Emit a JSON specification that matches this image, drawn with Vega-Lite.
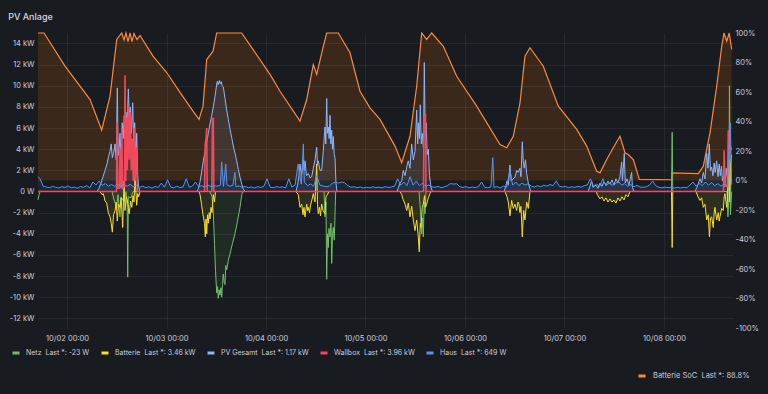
{
"$schema":"https://vega.github.io/schema/vega-lite/v6.json",
"width":695,"height":295,
"autosize":{"type":"none"},
"padding":{"left":38,"top":33,"right":35,"bottom":66},
"background":"#181b1f",
"title":{"text":"PV Anlage","anchor":"start","dx":-1,"dy":15,"offset":15,"baseline":"alphabetic","fontSize":9,"fontWeight":500,"color":"#d8d9e3","font":"Inter"},
"config":{"view":{"stroke":null},"font":"Inter"},
"datasets":{
"soc":[
{"h":-7.0,"s":"Batterie SoC","v":100},{"h":-5.55,"s":"Batterie SoC","v":100},{"h":-0.48,"s":"Batterie SoC","v":77.5},{"h":5.55,"s":"Batterie SoC","v":54.9},{"h":8.37,"s":"Batterie SoC","v":34.1},{"h":10.37,"s":"Batterie SoC","v":57.2},{"h":11.99,"s":"Batterie SoC","v":95.6},{"h":13.19,"s":"Batterie SoC","v":100},{"h":13.75,"s":"Batterie SoC","v":95.3},{"h":14.23,"s":"Batterie SoC","v":100},{"h":14.71,"s":"Batterie SoC","v":94.2},{"h":15.2,"s":"Batterie SoC","v":100},{"h":15.68,"s":"Batterie SoC","v":94.2},{"h":16.16,"s":"Batterie SoC","v":99.7},{"h":16.88,"s":"Batterie SoC","v":95.6},{"h":17.61,"s":"Batterie SoC","v":98.3},{"h":20.74,"s":"Batterie SoC","v":84.3},{"h":24.05,"s":"Batterie SoC","v":73.2},{"h":27.26,"s":"Batterie SoC","v":59.7},{"h":30.39,"s":"Batterie SoC","v":47},{"h":31.84,"s":"Batterie SoC","v":41.4},{"h":32.8,"s":"Batterie SoC","v":50.4},{"h":33.7,"s":"Batterie SoC","v":82},{"h":35.22,"s":"Batterie SoC","v":87.7},{"h":36.1,"s":"Batterie SoC","v":100},{"h":42.14,"s":"Batterie SoC","v":100},{"h":48.97,"s":"Batterie SoC","v":71.9},{"h":51.38,"s":"Batterie SoC","v":60.5},{"h":55.4,"s":"Batterie SoC","v":43.6},{"h":56.2,"s":"Batterie SoC","v":40.2},{"h":57.82,"s":"Batterie SoC","v":54.9},{"h":59.41,"s":"Batterie SoC","v":78.6},{"h":60.23,"s":"Batterie SoC","v":71.9},{"h":61.82,"s":"Batterie SoC","v":91},{"h":62.64,"s":"Batterie SoC","v":100},{"h":65.44,"s":"Batterie SoC","v":100},{"h":68.26,"s":"Batterie SoC","v":86.6},{"h":70.67,"s":"Batterie SoC","v":60.5},{"h":73.08,"s":"Batterie SoC","v":49.3},{"h":75.5,"s":"Batterie SoC","v":41.4},{"h":79.12,"s":"Batterie SoC","v":23.3},{"h":80.73,"s":"Batterie SoC","v":12},{"h":82.73,"s":"Batterie SoC","v":30},{"h":84.35,"s":"Batterie SoC","v":63.9},{"h":85.56,"s":"Batterie SoC","v":100},{"h":86.76,"s":"Batterie SoC","v":95.6},{"h":87.97,"s":"Batterie SoC","v":100},{"h":90.77,"s":"Batterie SoC","v":91},{"h":94.0,"s":"Batterie SoC","v":70.7},{"h":98.82,"s":"Batterie SoC","v":50.4},{"h":104.45,"s":"Batterie SoC","v":24.4},{"h":106.06,"s":"Batterie SoC","v":22.2},{"h":107.65,"s":"Batterie SoC","v":30},{"h":109.27,"s":"Batterie SoC","v":52.7},{"h":110.47,"s":"Batterie SoC","v":84.3},{"h":111.68,"s":"Batterie SoC","v":90},{"h":114.89,"s":"Batterie SoC","v":77.5},{"h":118.51,"s":"Batterie SoC","v":50.4},{"h":122.95,"s":"Batterie SoC","v":34.6},{"h":125.36,"s":"Batterie SoC","v":23.3},{"h":127.77,"s":"Batterie SoC","v":6.3},{"h":128.57,"s":"Batterie SoC","v":5.2},{"h":130.18,"s":"Batterie SoC","v":14.2},{"h":131.77,"s":"Batterie SoC","v":22.2},{"h":133.39,"s":"Batterie SoC","v":30},{"h":134.6,"s":"Batterie SoC","v":18.8},{"h":135.39,"s":"Batterie SoC","v":17.6},{"h":136.6,"s":"Batterie SoC","v":14.2},{"h":138.05,"s":"Batterie SoC","v":0.7},{"h":145.86,"s":"Batterie SoC","v":0.5},{"h":145.93,"s":"Batterie SoC","v":5.2},{"h":152.28,"s":"Batterie SoC","v":4.7},{"h":153.49,"s":"Batterie SoC","v":9.7},{"h":155.1,"s":"Batterie SoC","v":32.3},{"h":156.72,"s":"Batterie SoC","v":63.9},{"h":157.93,"s":"Batterie SoC","v":91},{"h":158.48,"s":"Batterie SoC","v":100},{"h":159.13,"s":"Batterie SoC","v":94.4},{"h":159.75,"s":"Batterie SoC","v":100},{"h":160.33,"s":"Batterie SoC","v":88.8}
],
"power":[
{"h":-7.0,"s":"Netz","v":-0.8},{"h":-6.75,"s":"Netz","v":-0.3},{"h":-6.5,"s":"Netz","v":0},{"h":10.85,"s":"Netz","v":0},{"h":11.34,"s":"Netz","v":-0.8},{"h":11.99,"s":"Netz","v":-1.5},{"h":12.30,"s":"Netz","v":-0.3},{"h":12.78,"s":"Netz","v":-2.4},{"h":13.02,"s":"Netz","v":-0.5},{"h":13.75,"s":"Netz","v":-1.0},{"h":14.23,"s":"Netz","v":0},{"h":14.52,"s":"Netz","v":-1.5},{"h":14.64,"s":"Netz","v":-8.1},{"h":14.79,"s":"Netz","v":-0.5},{"h":15.44,"s":"Netz","v":-0.6},{"h":15.92,"s":"Netz","v":0},
{"h":34.49,"s":"Netz","v":0},{"h":34.97,"s":"Netz","v":-0.5},{"h":35.29,"s":"Netz","v":-2.0},{"h":35.58,"s":"Netz","v":-5.0},{"h":35.82,"s":"Netz","v":-7.5},{"h":36.11,"s":"Netz","v":-9.6},{"h":36.30,"s":"Netz","v":-9.0},{"h":36.49,"s":"Netz","v":-10.1},{"h":36.71,"s":"Netz","v":-9.3},{"h":36.90,"s":"Netz","v":-9.8},{"h":37.14,"s":"Netz","v":-9.1},{"h":37.31,"s":"Netz","v":-10.0},{"h":37.51,"s":"Netz","v":-8.8},{"h":37.70,"s":"Netz","v":-7.8},{"h":37.92,"s":"Netz","v":-8.6},{"h":38.11,"s":"Netz","v":-8.8},{"h":38.30,"s":"Netz","v":-7.0},{"h":38.52,"s":"Netz","v":-7.4},{"h":38.91,"s":"Netz","v":-6.5},{"h":39.32,"s":"Netz","v":-5.9},{"h":39.92,"s":"Netz","v":-4.9},{"h":40.52,"s":"Netz","v":-4.0},{"h":41.12,"s":"Netz","v":-2.8},{"h":41.73,"s":"Netz","v":-1.5},{"h":42.14,"s":"Netz","v":-0.3},{"h":42.45,"s":"Netz","v":0},
{"h":61.99,"s":"Netz","v":0},{"h":62.23,"s":"Netz","v":-2.4},{"h":62.47,"s":"Netz","v":-1.0},{"h":62.64,"s":"Netz","v":-8.3},{"h":62.83,"s":"Netz","v":-4.0},{"h":63.03,"s":"Netz","v":-5.3},{"h":63.19,"s":"Netz","v":-3.5},{"h":63.44,"s":"Netz","v":-4.3},{"h":63.68,"s":"Netz","v":-3.0},{"h":63.85,"s":"Netz","v":-6.8},{"h":64.04,"s":"Netz","v":-4.0},{"h":64.23,"s":"Netz","v":-3.4},{"h":64.47,"s":"Netz","v":-4.6},{"h":64.69,"s":"Netz","v":-1.5},{"h":64.81,"s":"Netz","v":0},
{"h":84.90,"s":"Netz","v":0},{"h":85.14,"s":"Netz","v":-1.2},{"h":85.56,"s":"Netz","v":-4.0},{"h":85.75,"s":"Netz","v":-2.5},{"h":85.94,"s":"Netz","v":-4.3},{"h":86.16,"s":"Netz","v":-1.0},{"h":86.35,"s":"Netz","v":-2.1},{"h":86.59,"s":"Netz","v":0},
{"h":145.81,"s":"Netz","v":0},{"h":145.98,"s":"Netz","v":5.6},{"h":146.12,"s":"Netz","v":0},
{"h":159.19,"s":"Netz","v":0},{"h":159.43,"s":"Netz","v":-2.4},{"h":159.67,"s":"Netz","v":-0.5},{"h":159.79,"s":"Netz","v":10.0},{"h":160.03,"s":"Netz","v":-2.2},{"h":160.33,"s":"Netz","v":-0.023},

{"h":-7.0,"s":"Batterie","v":0},{"h":7.96,"s":"Batterie","v":0},{"h":8.44,"s":"Batterie","v":-0.3},{"h":8.76,"s":"Batterie","v":-0.2},{"h":9.17,"s":"Batterie","v":-0.9},{"h":9.58,"s":"Batterie","v":-1.1},{"h":9.96,"s":"Batterie","v":-2.0},{"h":10.37,"s":"Batterie","v":-2.4},{"h":10.66,"s":"Batterie","v":-3.0},{"h":10.93,"s":"Batterie","v":-3.85},{"h":11.22,"s":"Batterie","v":-2.2},{"h":11.58,"s":"Batterie","v":-1.8},{"h":11.87,"s":"Batterie","v":-1.0},{"h":12.13,"s":"Batterie","v":-2.8},{"h":12.42,"s":"Batterie","v":-1.2},{"h":12.78,"s":"Batterie","v":-1.5},{"h":13.07,"s":"Batterie","v":-0.6},{"h":13.43,"s":"Batterie","v":-3.4},{"h":13.75,"s":"Batterie","v":1.0},{"h":13.99,"s":"Batterie","v":-1.8},{"h":14.28,"s":"Batterie","v":-0.5},{"h":14.54,"s":"Batterie","v":-0.8},{"h":14.79,"s":"Batterie","v":-1.6},{"h":15.03,"s":"Batterie","v":-2.1},{"h":15.32,"s":"Batterie","v":-0.9},{"h":15.61,"s":"Batterie","v":-1.5},{"h":15.92,"s":"Batterie","v":-0.4},{"h":16.16,"s":"Batterie","v":-1.0},{"h":16.40,"s":"Batterie","v":1.35},{"h":16.81,"s":"Batterie","v":-1.3},{"h":17.05,"s":"Batterie","v":-0.2},{"h":17.29,"s":"Batterie","v":-0.5},{"h":17.61,"s":"Batterie","v":0},
{"h":31.84,"s":"Batterie","v":0},{"h":32.08,"s":"Batterie","v":-0.3},{"h":32.44,"s":"Batterie","v":-1.2},{"h":32.80,"s":"Batterie","v":-2.2},{"h":33.17,"s":"Batterie","v":-3.0},{"h":33.36,"s":"Batterie","v":-4.3},{"h":33.53,"s":"Batterie","v":-2.6},{"h":33.70,"s":"Batterie","v":-4.0},{"h":33.89,"s":"Batterie","v":-2.2},{"h":34.08,"s":"Batterie","v":-3.0},{"h":34.30,"s":"Batterie","v":-2.0},{"h":34.49,"s":"Batterie","v":-2.6},{"h":34.73,"s":"Batterie","v":-1.5},{"h":34.97,"s":"Batterie","v":-2.0},{"h":35.29,"s":"Batterie","v":-0.3},{"h":35.58,"s":"Batterie","v":-1.0},{"h":35.82,"s":"Batterie","v":0},
{"h":55.23,"s":"Batterie","v":0},{"h":55.79,"s":"Batterie","v":-0.3},{"h":56.20,"s":"Batterie","v":-1.5},{"h":56.61,"s":"Batterie","v":-1.2},{"h":56.92,"s":"Batterie","v":-2.2},{"h":57.16,"s":"Batterie","v":-1.5},{"h":57.41,"s":"Batterie","v":-2.4},{"h":57.82,"s":"Batterie","v":-1.2},{"h":58.01,"s":"Batterie","v":-1.8},{"h":58.20,"s":"Batterie","v":-1.5},{"h":58.49,"s":"Batterie","v":-2.0},{"h":58.73,"s":"Batterie","v":-1.3},{"h":59.02,"s":"Batterie","v":-0.9},{"h":59.41,"s":"Batterie","v":-0.2},{"h":59.82,"s":"Batterie","v":-1.0},{"h":60.23,"s":"Batterie","v":2.6},{"h":60.42,"s":"Batterie","v":-1.2},{"h":60.61,"s":"Batterie","v":-2.1},{"h":60.90,"s":"Batterie","v":-1.5},{"h":61.14,"s":"Batterie","v":-2.3},{"h":61.43,"s":"Batterie","v":-1.2},{"h":61.75,"s":"Batterie","v":-1.8},{"h":62.23,"s":"Batterie","v":-2.1},{"h":62.47,"s":"Batterie","v":-0.5},{"h":62.83,"s":"Batterie","v":-0.3},{"h":63.19,"s":"Batterie","v":0},
{"h":80.32,"s":"Batterie","v":0},{"h":80.73,"s":"Batterie","v":-0.3},{"h":81.12,"s":"Batterie","v":-0.8},{"h":81.53,"s":"Batterie","v":-1.2},{"h":81.94,"s":"Batterie","v":-1.8},{"h":82.32,"s":"Batterie","v":-1.1},{"h":82.73,"s":"Batterie","v":-2.4},{"h":83.14,"s":"Batterie","v":-1.4},{"h":83.53,"s":"Batterie","v":-2.7},{"h":83.94,"s":"Batterie","v":-3.7},{"h":84.35,"s":"Batterie","v":-2.7},{"h":84.73,"s":"Batterie","v":-4.3},{"h":84.97,"s":"Batterie","v":-5.7},{"h":85.22,"s":"Batterie","v":-3.0},{"h":85.38,"s":"Batterie","v":-3.4},{"h":85.70,"s":"Batterie","v":-1.5},{"h":85.94,"s":"Batterie","v":-1.2},{"h":86.23,"s":"Batterie","v":-0.4},{"h":86.47,"s":"Batterie","v":-1.5},{"h":86.76,"s":"Batterie","v":-1.2},{"h":87.15,"s":"Batterie","v":-0.6},{"h":87.56,"s":"Batterie","v":-0.2},{"h":87.80,"s":"Batterie","v":0},
{"h":105.65,"s":"Batterie","v":0},{"h":106.13,"s":"Batterie","v":-0.5},{"h":106.44,"s":"Batterie","v":-1.0},{"h":106.85,"s":"Batterie","v":-2.3},{"h":107.26,"s":"Batterie","v":-0.85},{"h":107.65,"s":"Batterie","v":-1.6},{"h":108.06,"s":"Batterie","v":-1.2},{"h":108.47,"s":"Batterie","v":-1.8},{"h":108.78,"s":"Batterie","v":-1.0},{"h":109.02,"s":"Batterie","v":-1.2},{"h":109.26,"s":"Batterie","v":-2.0},{"h":109.50,"s":"Batterie","v":-1.4},{"h":109.82,"s":"Batterie","v":-4.3},{"h":110.15,"s":"Batterie","v":-1.8},{"h":110.47,"s":"Batterie","v":-2.7},{"h":110.88,"s":"Batterie","v":-1.0},{"h":111.27,"s":"Batterie","v":-1.6},{"h":111.68,"s":"Batterie","v":0},
{"h":127.59,"s":"Batterie","v":0},{"h":128.08,"s":"Batterie","v":-0.4},{"h":128.56,"s":"Batterie","v":-0.7},{"h":129.04,"s":"Batterie","v":-0.5},{"h":129.52,"s":"Batterie","v":-0.9},{"h":130.01,"s":"Batterie","v":-0.6},{"h":130.49,"s":"Batterie","v":-1.0},{"h":130.97,"s":"Batterie","v":-0.7},{"h":131.45,"s":"Batterie","v":-1.0},{"h":131.94,"s":"Batterie","v":-0.8},{"h":132.42,"s":"Batterie","v":-1.1},{"h":132.90,"s":"Batterie","v":-0.6},{"h":133.38,"s":"Batterie","v":-0.9},{"h":133.87,"s":"Batterie","v":-0.5},{"h":134.35,"s":"Batterie","v":-0.8},{"h":134.83,"s":"Batterie","v":-0.3},{"h":135.31,"s":"Batterie","v":-0.5},{"h":135.80,"s":"Batterie","v":0},
{"h":145.81,"s":"Batterie","v":0},{"h":145.98,"s":"Batterie","v":-5.3},{"h":146.12,"s":"Batterie","v":0},
{"h":151.71,"s":"Batterie","v":0},{"h":152.20,"s":"Batterie","v":-0.5},{"h":152.68,"s":"Batterie","v":-0.85},{"h":153.09,"s":"Batterie","v":-0.6},{"h":153.48,"s":"Batterie","v":-1.5},{"h":153.89,"s":"Batterie","v":-1.2},{"h":154.30,"s":"Batterie","v":-2.7},{"h":154.68,"s":"Batterie","v":-2.2},{"h":154.97,"s":"Batterie","v":-4.3},{"h":155.21,"s":"Batterie","v":-2.5},{"h":155.50,"s":"Batterie","v":-2.4},{"h":155.89,"s":"Batterie","v":-3.4},{"h":156.11,"s":"Batterie","v":-2.0},{"h":156.30,"s":"Batterie","v":-1.5},{"h":156.71,"s":"Batterie","v":-2.7},{"h":157.10,"s":"Batterie","v":-2.0},{"h":157.31,"s":"Batterie","v":-2.8},{"h":157.50,"s":"Batterie","v":-2.4},{"h":157.91,"s":"Batterie","v":-1.6},{"h":158.30,"s":"Batterie","v":-1.8},{"h":158.52,"s":"Batterie","v":-0.5},{"h":158.71,"s":"Batterie","v":-0.2},{"h":159.12,"s":"Batterie","v":-1.5},{"h":159.31,"s":"Batterie","v":-0.8},{"h":159.51,"s":"Batterie","v":3.2},{"h":159.79,"s":"Batterie","v":-1.0},{"h":160.03,"s":"Batterie","v":2.5},{"h":160.33,"s":"Batterie","v":3.46},

{"h":-7.0,"s":"PV Gesamt","v":0},{"h":7.24,"s":"PV Gesamt","v":0},{"h":7.72,"s":"PV Gesamt","v":0.3},{"h":8.20,"s":"PV Gesamt","v":0.8},{"h":8.68,"s":"PV Gesamt","v":1.4},{"h":9.17,"s":"PV Gesamt","v":2.0},{"h":9.65,"s":"PV Gesamt","v":2.6},{"h":10.01,"s":"PV Gesamt","v":3.3},{"h":10.37,"s":"PV Gesamt","v":3.8},{"h":10.66,"s":"PV Gesamt","v":4.5},{"h":10.93,"s":"PV Gesamt","v":3.2},{"h":11.22,"s":"PV Gesamt","v":3.6},{"h":11.58,"s":"PV Gesamt","v":4.5},{"h":11.87,"s":"PV Gesamt","v":3.0},{"h":12.13,"s":"PV Gesamt","v":9.8},{"h":12.35,"s":"PV Gesamt","v":3.4},{"h":12.59,"s":"PV Gesamt","v":4.2},{"h":12.78,"s":"PV Gesamt","v":5.5},{"h":13.02,"s":"PV Gesamt","v":3.5},{"h":13.31,"s":"PV Gesamt","v":6.5},{"h":13.56,"s":"PV Gesamt","v":5.0},{"h":13.80,"s":"PV Gesamt","v":7.2},{"h":13.99,"s":"PV Gesamt","v":4.5},{"h":14.23,"s":"PV Gesamt","v":7.5},{"h":14.47,"s":"PV Gesamt","v":6.0},{"h":14.79,"s":"PV Gesamt","v":9.7},{"h":15.03,"s":"PV Gesamt","v":7.0},{"h":15.27,"s":"PV Gesamt","v":8.0},{"h":15.51,"s":"PV Gesamt","v":5.5},{"h":15.85,"s":"PV Gesamt","v":8.4},{"h":16.09,"s":"PV Gesamt","v":4.5},{"h":16.33,"s":"PV Gesamt","v":6.5},{"h":16.57,"s":"PV Gesamt","v":3.0},{"h":16.81,"s":"PV Gesamt","v":5.5},{"h":17.05,"s":"PV Gesamt","v":1.5},{"h":17.29,"s":"PV Gesamt","v":0.4},{"h":17.61,"s":"PV Gesamt","v":0},
{"h":31.36,"s":"PV Gesamt","v":0},{"h":31.72,"s":"PV Gesamt","v":0.3},{"h":32.08,"s":"PV Gesamt","v":0.9},{"h":32.49,"s":"PV Gesamt","v":1.9},{"h":32.88,"s":"PV Gesamt","v":2.9},{"h":33.29,"s":"PV Gesamt","v":3.8},{"h":33.70,"s":"PV Gesamt","v":4.7},{"h":34.08,"s":"PV Gesamt","v":5.5},{"h":34.49,"s":"PV Gesamt","v":6.4},{"h":34.90,"s":"PV Gesamt","v":7.2},{"h":35.29,"s":"PV Gesamt","v":8.0},{"h":35.70,"s":"PV Gesamt","v":9.0},{"h":35.99,"s":"PV Gesamt","v":9.8},{"h":36.23,"s":"PV Gesamt","v":10.4},{"h":36.49,"s":"PV Gesamt","v":10.1},{"h":36.73,"s":"PV Gesamt","v":10.5},{"h":36.98,"s":"PV Gesamt","v":10.2},{"h":37.19,"s":"PV Gesamt","v":10.4},{"h":37.43,"s":"PV Gesamt","v":10.0},{"h":37.70,"s":"PV Gesamt","v":9.9},{"h":38.11,"s":"PV Gesamt","v":8.8},{"h":38.52,"s":"PV Gesamt","v":7.7},{"h":38.91,"s":"PV Gesamt","v":6.8},{"h":39.32,"s":"PV Gesamt","v":5.9},{"h":39.72,"s":"PV Gesamt","v":5.1},{"h":40.11,"s":"PV Gesamt","v":4.3},{"h":40.52,"s":"PV Gesamt","v":3.6},{"h":40.93,"s":"PV Gesamt","v":2.9},{"h":41.32,"s":"PV Gesamt","v":2.1},{"h":41.73,"s":"PV Gesamt","v":1.35},{"h":42.14,"s":"PV Gesamt","v":0.7},{"h":42.52,"s":"PV Gesamt","v":0.25},{"h":42.93,"s":"PV Gesamt","v":0},
{"h":55.23,"s":"PV Gesamt","v":0},{"h":55.60,"s":"PV Gesamt","v":0.6},{"h":55.96,"s":"PV Gesamt","v":1.5},{"h":56.20,"s":"PV Gesamt","v":2.6},{"h":56.56,"s":"PV Gesamt","v":1.5},{"h":57.00,"s":"PV Gesamt","v":3.0},{"h":57.21,"s":"PV Gesamt","v":2.0},{"h":57.41,"s":"PV Gesamt","v":2.9},{"h":57.77,"s":"PV Gesamt","v":1.5},{"h":58.20,"s":"PV Gesamt","v":1.7},{"h":58.61,"s":"PV Gesamt","v":1.3},{"h":59.02,"s":"PV Gesamt","v":1.4},{"h":59.41,"s":"PV Gesamt","v":2.2},{"h":59.82,"s":"PV Gesamt","v":3.0},{"h":60.23,"s":"PV Gesamt","v":4.2},{"h":60.42,"s":"PV Gesamt","v":2.5},{"h":60.61,"s":"PV Gesamt","v":2.9},{"h":61.02,"s":"PV Gesamt","v":2.0},{"h":61.43,"s":"PV Gesamt","v":2.0},{"h":61.75,"s":"PV Gesamt","v":3.5},{"h":62.23,"s":"PV Gesamt","v":6.1},{"h":62.42,"s":"PV Gesamt","v":4.5},{"h":62.64,"s":"PV Gesamt","v":8.8},{"h":62.83,"s":"PV Gesamt","v":5.5},{"h":63.03,"s":"PV Gesamt","v":6.1},{"h":63.24,"s":"PV Gesamt","v":5.0},{"h":63.44,"s":"PV Gesamt","v":7.2},{"h":63.63,"s":"PV Gesamt","v":4.5},{"h":63.85,"s":"PV Gesamt","v":5.8},{"h":64.04,"s":"PV Gesamt","v":4.0},{"h":64.23,"s":"PV Gesamt","v":5.2},{"h":64.45,"s":"PV Gesamt","v":3.5},{"h":64.64,"s":"PV Gesamt","v":3.2},{"h":64.88,"s":"PV Gesamt","v":0.8},{"h":65.12,"s":"PV Gesamt","v":0},
{"h":79.60,"s":"PV Gesamt","v":0},{"h":79.96,"s":"PV Gesamt","v":0.4},{"h":80.32,"s":"PV Gesamt","v":0.8},{"h":80.73,"s":"PV Gesamt","v":1.0},{"h":81.12,"s":"PV Gesamt","v":2.0},{"h":81.53,"s":"PV Gesamt","v":1.5},{"h":81.94,"s":"PV Gesamt","v":2.3},{"h":82.32,"s":"PV Gesamt","v":2.9},{"h":82.73,"s":"PV Gesamt","v":2.2},{"h":83.14,"s":"PV Gesamt","v":4.5},{"h":83.53,"s":"PV Gesamt","v":3.0},{"h":83.94,"s":"PV Gesamt","v":3.8},{"h":84.35,"s":"PV Gesamt","v":7.7},{"h":84.59,"s":"PV Gesamt","v":4.5},{"h":84.78,"s":"PV Gesamt","v":6.5},{"h":85.02,"s":"PV Gesamt","v":5.0},{"h":85.22,"s":"PV Gesamt","v":8.2},{"h":85.46,"s":"PV Gesamt","v":4.5},{"h":85.70,"s":"PV Gesamt","v":5.5},{"h":85.99,"s":"PV Gesamt","v":4.0},{"h":86.18,"s":"PV Gesamt","v":12.2},{"h":86.40,"s":"PV Gesamt","v":5.5},{"h":86.64,"s":"PV Gesamt","v":6.5},{"h":86.88,"s":"PV Gesamt","v":3.5},{"h":87.15,"s":"PV Gesamt","v":4.0},{"h":87.44,"s":"PV Gesamt","v":1.5},{"h":87.80,"s":"PV Gesamt","v":0.4},{"h":88.16,"s":"PV Gesamt","v":0},
{"h":105.40,"s":"PV Gesamt","v":0},{"h":105.77,"s":"PV Gesamt","v":0.4},{"h":106.13,"s":"PV Gesamt","v":1.0},{"h":106.44,"s":"PV Gesamt","v":0.6},{"h":106.85,"s":"PV Gesamt","v":2.5},{"h":107.14,"s":"PV Gesamt","v":1.0},{"h":107.58,"s":"PV Gesamt","v":1.2},{"h":108.06,"s":"PV Gesamt","v":1.35},{"h":108.47,"s":"PV Gesamt","v":2.0},{"h":108.85,"s":"PV Gesamt","v":1.8},{"h":109.26,"s":"PV Gesamt","v":2.2},{"h":109.50,"s":"PV Gesamt","v":1.4},{"h":109.82,"s":"PV Gesamt","v":4.7},{"h":110.06,"s":"PV Gesamt","v":2.9},{"h":110.30,"s":"PV Gesamt","v":2.2},{"h":110.59,"s":"PV Gesamt","v":3.0},{"h":110.88,"s":"PV Gesamt","v":1.7},{"h":111.27,"s":"PV Gesamt","v":0.8},{"h":111.68,"s":"PV Gesamt","v":0.25},{"h":111.92,"s":"PV Gesamt","v":0},
{"h":125.67,"s":"PV Gesamt","v":0},{"h":126.15,"s":"PV Gesamt","v":0.5},{"h":126.56,"s":"PV Gesamt","v":1.0},{"h":126.87,"s":"PV Gesamt","v":0.4},{"h":127.59,"s":"PV Gesamt","v":0.6},{"h":128.08,"s":"PV Gesamt","v":0.3},{"h":128.56,"s":"PV Gesamt","v":0.8},{"h":129.04,"s":"PV Gesamt","v":0.5},{"h":129.52,"s":"PV Gesamt","v":0.9},{"h":130.01,"s":"PV Gesamt","v":0.6},{"h":130.49,"s":"PV Gesamt","v":1.0},{"h":130.97,"s":"PV Gesamt","v":0.7},{"h":131.45,"s":"PV Gesamt","v":1.1},{"h":131.94,"s":"PV Gesamt","v":0.6},{"h":132.42,"s":"PV Gesamt","v":1.2},{"h":132.90,"s":"PV Gesamt","v":0.8},{"h":133.38,"s":"PV Gesamt","v":1.4},{"h":133.79,"s":"PV Gesamt","v":2.8},{"h":133.98,"s":"PV Gesamt","v":1.0},{"h":134.42,"s":"PV Gesamt","v":3.6},{"h":134.66,"s":"PV Gesamt","v":0.8},{"h":135.07,"s":"PV Gesamt","v":1.2},{"h":135.55,"s":"PV Gesamt","v":0.6},{"h":136.20,"s":"PV Gesamt","v":1.8},{"h":136.39,"s":"PV Gesamt","v":0.4},{"h":136.76,"s":"PV Gesamt","v":0},
{"h":151.47,"s":"PV Gesamt","v":0},{"h":151.96,"s":"PV Gesamt","v":0.4},{"h":152.68,"s":"PV Gesamt","v":1.2},{"h":153.09,"s":"PV Gesamt","v":0.8},{"h":153.48,"s":"PV Gesamt","v":1.8},{"h":153.89,"s":"PV Gesamt","v":1.2},{"h":154.30,"s":"PV Gesamt","v":3.6},{"h":154.61,"s":"PV Gesamt","v":2.2},{"h":154.93,"s":"PV Gesamt","v":4.5},{"h":155.21,"s":"PV Gesamt","v":2.0},{"h":155.50,"s":"PV Gesamt","v":2.3},{"h":155.81,"s":"PV Gesamt","v":1.5},{"h":156.11,"s":"PV Gesamt","v":2.7},{"h":156.35,"s":"PV Gesamt","v":1.8},{"h":156.71,"s":"PV Gesamt","v":2.9},{"h":157.03,"s":"PV Gesamt","v":1.4},{"h":157.31,"s":"PV Gesamt","v":2.6},{"h":157.58,"s":"PV Gesamt","v":1.5},{"h":157.87,"s":"PV Gesamt","v":2.4},{"h":158.11,"s":"PV Gesamt","v":1.0},{"h":158.35,"s":"PV Gesamt","v":1.4},{"h":158.71,"s":"PV Gesamt","v":0.6},{"h":159.02,"s":"PV Gesamt","v":2.2},{"h":159.31,"s":"PV Gesamt","v":1.2},{"h":159.67,"s":"PV Gesamt","v":1.8},{"h":160.03,"s":"PV Gesamt","v":0.9},{"h":160.33,"s":"PV Gesamt","v":1.17},

{"h":-7.0,"s":"Wallbox","v":0},{"h":11.94,"s":"Wallbox","v":0},{"h":12.06,"s":"Wallbox","v":6.5},{"h":12.25,"s":"Wallbox","v":0.3},{"h":12.66,"s":"Wallbox","v":0.3},{"h":12.78,"s":"Wallbox","v":4.0},{"h":12.98,"s":"Wallbox","v":0.3},{"h":13.22,"s":"Wallbox","v":6.0},{"h":13.39,"s":"Wallbox","v":0.3},{"h":13.87,"s":"Wallbox","v":0.5},{"h":13.99,"s":"Wallbox","v":11.0},{"h":14.16,"s":"Wallbox","v":1.0},{"h":14.35,"s":"Wallbox","v":7.0},{"h":14.54,"s":"Wallbox","v":2.0},{"h":14.79,"s":"Wallbox","v":8.0},{"h":15.03,"s":"Wallbox","v":3.0},{"h":15.27,"s":"Wallbox","v":7.5},{"h":15.51,"s":"Wallbox","v":2.0},{"h":15.73,"s":"Wallbox","v":5.0},{"h":15.99,"s":"Wallbox","v":1.0},{"h":16.23,"s":"Wallbox","v":6.0},{"h":16.45,"s":"Wallbox","v":1.0},{"h":16.76,"s":"Wallbox","v":4.2},{"h":17.0,"s":"Wallbox","v":0},
{"h":33.17,"s":"Wallbox","v":0},{"h":33.34,"s":"Wallbox","v":4.5},{"h":33.53,"s":"Wallbox","v":5.0},{"h":33.70,"s":"Wallbox","v":6.0},{"h":33.82,"s":"Wallbox","v":0},{"h":34.92,"s":"Wallbox","v":0},{"h":35.09,"s":"Wallbox","v":6.9},{"h":35.29,"s":"Wallbox","v":6.9},{"h":35.41,"s":"Wallbox","v":0},
{"h":85.99,"s":"Wallbox","v":0},{"h":86.11,"s":"Wallbox","v":7.0},{"h":86.47,"s":"Wallbox","v":7.2},{"h":86.59,"s":"Wallbox","v":0},
{"h":158.35,"s":"Wallbox","v":0},{"h":158.52,"s":"Wallbox","v":3.9},{"h":158.71,"s":"Wallbox","v":0.5},{"h":159.31,"s":"Wallbox","v":0.5},{"h":159.51,"s":"Wallbox","v":5.8},{"h":159.67,"s":"Wallbox","v":3.0},{"h":160.03,"s":"Wallbox","v":4.2},{"h":160.33,"s":"Wallbox","v":3.96},

{"h":-7.0,"s":"Haus","v":1.4},{"h":-6.5,"s":"Haus","v":1.2},{"h":-5.75,"s":"Haus","v":0.5},{"h":-5.0,"s":"Haus","v":0.42},{"h":-4.25,"s":"Haus","v":0.36},{"h":-3.5,"s":"Haus","v":0.48},{"h":-2.75,"s":"Haus","v":0.4},{"h":-2.0,"s":"Haus","v":0.33},{"h":-1.25,"s":"Haus","v":0.45},{"h":-0.5,"s":"Haus","v":0.38},{"h":0.25,"s":"Haus","v":0.52},{"h":1.0,"s":"Haus","v":0.36},{"h":1.75,"s":"Haus","v":0.41},{"h":2.5,"s":"Haus","v":0.31},{"h":3.25,"s":"Haus","v":0.47},{"h":4.0,"s":"Haus","v":0.39},{"h":4.75,"s":"Haus","v":0.55},{"h":5.5,"s":"Haus","v":0.35},{"h":6.25,"s":"Haus","v":0.9},{"h":7.0,"s":"Haus","v":0.62},{"h":7.75,"s":"Haus","v":1.0},{"h":8.5,"s":"Haus","v":0.58},{"h":9.25,"s":"Haus","v":0.75},{"h":10.0,"s":"Haus","v":0.5},{"h":10.75,"s":"Haus","v":0.66},{"h":11.5,"s":"Haus","v":0.48},{"h":12.25,"s":"Haus","v":0.7},{"h":13.0,"s":"Haus","v":0.45},{"h":13.75,"s":"Haus","v":0.62},{"h":14.5,"s":"Haus","v":0.5},{"h":15.25,"s":"Haus","v":0.68},{"h":16.0,"s":"Haus","v":0.44},{"h":16.75,"s":"Haus","v":0.58},{"h":17.5,"s":"Haus","v":0.4},{"h":18.25,"s":"Haus","v":0.5},{"h":19.0,"s":"Haus","v":0.36},{"h":19.75,"s":"Haus","v":0.45},{"h":20.5,"s":"Haus","v":0.32},{"h":21.25,"s":"Haus","v":0.48},{"h":22.0,"s":"Haus","v":0.38},{"h":22.75,"s":"Haus","v":0.8},{"h":23.5,"s":"Haus","v":0.4},{"h":24.25,"s":"Haus","v":1.1},{"h":25.0,"s":"Haus","v":0.42},{"h":25.75,"s":"Haus","v":0.35},{"h":26.5,"s":"Haus","v":0.5},{"h":27.25,"s":"Haus","v":0.37},{"h":28.0,"s":"Haus","v":0.44},{"h":28.75,"s":"Haus","v":1.2},{"h":29.5,"s":"Haus","v":0.4},{"h":30.25,"s":"Haus","v":0.52},{"h":31.0,"s":"Haus","v":0.9},{"h":31.75,"s":"Haus","v":0.45},{"h":32.5,"s":"Haus","v":0.55},{"h":33.25,"s":"Haus","v":0.42},{"h":34.0,"s":"Haus","v":0.6},{"h":34.75,"s":"Haus","v":0.47},{"h":35.5,"s":"Haus","v":0.56},{"h":36.25,"s":"Haus","v":0.5},{"h":37.0,"s":"Haus","v":0.62},{"h":37.3,"s":"Haus","v":2.8},{"h":37.75,"s":"Haus","v":0.48},{"h":38.3,"s":"Haus","v":2.6},{"h":38.55,"s":"Haus","v":0.66},{"h":39.25,"s":"Haus","v":0.5},{"h":40.0,"s":"Haus","v":0.58},{"h":40.5,"s":"Haus","v":1.8},{"h":40.75,"s":"Haus","v":0.46},{"h":41.5,"s":"Haus","v":0.52},{"h":42.25,"s":"Haus","v":0.4},{"h":43.0,"s":"Haus","v":0.47},{"h":43.75,"s":"Haus","v":0.36},{"h":44.5,"s":"Haus","v":0.43},{"h":45.25,"s":"Haus","v":0.33},{"h":46.0,"s":"Haus","v":0.46},{"h":46.75,"s":"Haus","v":0.38},{"h":47.5,"s":"Haus","v":0.5},{"h":48.25,"s":"Haus","v":1.2},{"h":49.0,"s":"Haus","v":0.41},{"h":49.75,"s":"Haus","v":0.35},{"h":50.5,"s":"Haus","v":0.47},{"h":51.25,"s":"Haus","v":0.39},{"h":52.0,"s":"Haus","v":0.44},{"h":52.75,"s":"Haus","v":0.34},{"h":53.5,"s":"Haus","v":1.2},{"h":54.25,"s":"Haus","v":0.42},{"h":55.0,"s":"Haus","v":0.6},{"h":55.75,"s":"Haus","v":2.6},{"h":56.5,"s":"Haus","v":0.7},{"h":57.0,"s":"Haus","v":4.5},{"h":57.25,"s":"Haus","v":0.9},{"h":58.0,"s":"Haus","v":0.55},{"h":58.75,"s":"Haus","v":0.72},{"h":59.5,"s":"Haus","v":0.5},{"h":60.25,"s":"Haus","v":1.5},{"h":61.0,"s":"Haus","v":0.6},{"h":61.75,"s":"Haus","v":0.52},{"h":62.5,"s":"Haus","v":0.45},{"h":63.25,"s":"Haus","v":0.5},{"h":64.0,"s":"Haus","v":0.78},{"h":64.75,"s":"Haus","v":0.88},{"h":65.5,"s":"Haus","v":0.8},{"h":66.25,"s":"Haus","v":0.9},{"h":67.0,"s":"Haus","v":0.82},{"h":67.75,"s":"Haus","v":0.55},{"h":68.5,"s":"Haus","v":0.4},{"h":69.25,"s":"Haus","v":0.45},{"h":70.0,"s":"Haus","v":0.36},{"h":70.75,"s":"Haus","v":0.42},{"h":71.5,"s":"Haus","v":0.33},{"h":72.25,"s":"Haus","v":0.4},{"h":73.0,"s":"Haus","v":0.35},{"h":73.75,"s":"Haus","v":0.44},{"h":74.5,"s":"Haus","v":0.37},{"h":75.25,"s":"Haus","v":0.41},{"h":76.0,"s":"Haus","v":0.34},{"h":76.75,"s":"Haus","v":0.46},{"h":77.5,"s":"Haus","v":0.38},{"h":78.25,"s":"Haus","v":0.43},{"h":79.0,"s":"Haus","v":0.5},{"h":79.75,"s":"Haus","v":1.2},{"h":80.5,"s":"Haus","v":0.6},{"h":81.25,"s":"Haus","v":0.9},{"h":82.0,"s":"Haus","v":0.55},{"h":82.75,"s":"Haus","v":1.4},{"h":83.5,"s":"Haus","v":0.6},{"h":84.25,"s":"Haus","v":1.0},{"h":85.0,"s":"Haus","v":0.55},{"h":85.75,"s":"Haus","v":0.8},{"h":86.5,"s":"Haus","v":0.5},{"h":87.25,"s":"Haus","v":0.62},{"h":88.0,"s":"Haus","v":0.45},{"h":88.75,"s":"Haus","v":0.4},{"h":89.5,"s":"Haus","v":0.48},{"h":90.25,"s":"Haus","v":0.36},{"h":91.0,"s":"Haus","v":0.44},{"h":91.75,"s":"Haus","v":0.55},{"h":92.5,"s":"Haus","v":0.75},{"h":93.25,"s":"Haus","v":0.7},{"h":94.0,"s":"Haus","v":0.74},{"h":94.75,"s":"Haus","v":0.45},{"h":95.5,"s":"Haus","v":0.38},{"h":96.25,"s":"Haus","v":0.46},{"h":97.0,"s":"Haus","v":0.34},{"h":97.75,"s":"Haus","v":0.42},{"h":98.5,"s":"Haus","v":0.37},{"h":99.25,"s":"Haus","v":0.45},{"h":100.0,"s":"Haus","v":0.9},{"h":100.75,"s":"Haus","v":0.4},{"h":101.5,"s":"Haus","v":0.35},{"h":102.25,"s":"Haus","v":0.44},{"h":102.7,"s":"Haus","v":3.2},{"h":103.0,"s":"Haus","v":0.38},{"h":103.75,"s":"Haus","v":0.47},{"h":104.5,"s":"Haus","v":0.33},{"h":105.25,"s":"Haus","v":0.5},{"h":106.0,"s":"Haus","v":0.4},{"h":106.85,"s":"Haus","v":2.0},{"h":107.5,"s":"Haus","v":0.6},{"h":108.25,"s":"Haus","v":0.9},{"h":109.0,"s":"Haus","v":0.55},{"h":109.75,"s":"Haus","v":0.8},{"h":110.5,"s":"Haus","v":0.6},{"h":111.25,"s":"Haus","v":0.75},{"h":112.0,"s":"Haus","v":0.5},{"h":112.75,"s":"Haus","v":0.42},{"h":113.5,"s":"Haus","v":0.55},{"h":114.25,"s":"Haus","v":0.44},{"h":115.0,"s":"Haus","v":0.6},{"h":115.75,"s":"Haus","v":0.5},{"h":116.5,"s":"Haus","v":0.66},{"h":117.25,"s":"Haus","v":0.55},{"h":118.0,"s":"Haus","v":1.0},{"h":118.75,"s":"Haus","v":0.5},{"h":119.5,"s":"Haus","v":0.42},{"h":120.25,"s":"Haus","v":0.48},{"h":121.0,"s":"Haus","v":0.36},{"h":121.75,"s":"Haus","v":0.45},{"h":122.5,"s":"Haus","v":0.38},{"h":123.25,"s":"Haus","v":0.5},{"h":124.0,"s":"Haus","v":0.4},{"h":124.75,"s":"Haus","v":0.55},{"h":125.5,"s":"Haus","v":0.62},{"h":126.25,"s":"Haus","v":1.2},{"h":127.0,"s":"Haus","v":0.5},{"h":127.75,"s":"Haus","v":0.7},{"h":128.5,"s":"Haus","v":0.48},{"h":129.25,"s":"Haus","v":1.2},{"h":130.0,"s":"Haus","v":0.55},{"h":130.75,"s":"Haus","v":0.8},{"h":131.5,"s":"Haus","v":0.6},{"h":132.25,"s":"Haus","v":0.7},{"h":133.0,"s":"Haus","v":1.0},{"h":133.75,"s":"Haus","v":0.6},{"h":134.5,"s":"Haus","v":0.75},{"h":135.25,"s":"Haus","v":0.5},{"h":136.0,"s":"Haus","v":0.65},{"h":136.75,"s":"Haus","v":0.45},{"h":137.5,"s":"Haus","v":0.58},{"h":138.25,"s":"Haus","v":0.42},{"h":139.0,"s":"Haus","v":0.4},{"h":139.75,"s":"Haus","v":0.45},{"h":140.5,"s":"Haus","v":0.6},{"h":141.25,"s":"Haus","v":1.0},{"h":142.0,"s":"Haus","v":0.55},{"h":142.75,"s":"Haus","v":0.4},{"h":143.5,"s":"Haus","v":0.35},{"h":144.25,"s":"Haus","v":0.42},{"h":145.0,"s":"Haus","v":0.36},{"h":145.75,"s":"Haus","v":0.4},{"h":146.5,"s":"Haus","v":0.34},{"h":147.25,"s":"Haus","v":0.39},{"h":148.0,"s":"Haus","v":0.33},{"h":148.75,"s":"Haus","v":0.4},{"h":149.5,"s":"Haus","v":0.35},{"h":150.25,"s":"Haus","v":0.6},{"h":151.0,"s":"Haus","v":0.9},{"h":151.75,"s":"Haus","v":0.5},{"h":152.5,"s":"Haus","v":0.8},{"h":153.25,"s":"Haus","v":0.55},{"h":154.0,"s":"Haus","v":0.9},{"h":154.75,"s":"Haus","v":0.6},{"h":155.5,"s":"Haus","v":0.85},{"h":156.25,"s":"Haus","v":0.55},{"h":157.0,"s":"Haus","v":0.75},{"h":157.75,"s":"Haus","v":0.5},{"h":158.5,"s":"Haus","v":0.7},{"h":159.25,"s":"Haus","v":0.55},{"h":160.0,"s":"Haus","v":6.5},{"h":160.33,"s":"Haus","v":0.649}
]
},
"layer":[
{"data":{"name":"soc"},
 "encoding":{
  "x":{"field":"h","type":"quantitative","scale":{"domain":[-7.0,160.65],"nice":false,"zero":false},
   "axis":{"title":null,"values":[0,24,48,72,96,120,144],"labelExpr":"'10/0' + (2 + datum.value/24) + ' 00:00'","grid":true,"gridColor":"#ccccdc","gridOpacity":0.08,"domain":false,"ticks":false,"labelColor":"#ccccdc","labelFontSize":7.5,"labelFont":"Inter","labelPadding":6}},
  "y":{"field":"v","type":"quantitative","scale":{"domain":[-100,100],"nice":false},
   "axis":{"orient":"right","title":null,"values":[-100,-80,-60,-40,-20,0,20,40,60,80,100],"labelExpr":"datum.value + '%'","grid":false,"domain":false,"ticks":false,"labelColor":"#ccccdc","labelFontSize":7.5,"labelFont":"Inter","labelPadding":2}}
 },
 "layer":[
  {"mark":{"type":"area","opacity":0.15,"color":"#FF780A"},"encoding":{"y2":{"datum":0}}},
  {"mark":{"type":"line","strokeWidth":1.2},
   "encoding":{"color":{"field":"s","type":"nominal","scale":{"domain":["Batterie SoC"],"range":["#F98B3B"]},
    "legend":{"orient":"none","legendX":599,"legendY":338,"title":null,"symbolType":"stroke","symbolStrokeWidth":3,"symbolSize":49,"symbolOpacity":1,"labelColor":"#ccccdc","labelFontSize":7.5,"labelFont":"Inter","labelOffset":6,"labelExpr":"datum.label + '\u00a0\u00a0Last *: 88.8%'"}}}}
 ]
},
{"data":{"name":"power"},
 "encoding":{
  "x":{"field":"h","type":"quantitative","scale":{"domain":[-7.0,160.65],"nice":false,"zero":false},
   "axis":{"title":null,"values":[0,24,48,72,96,120,144],"labelExpr":"'10/0' + (2 + datum.value/24) + ' 00:00'","grid":true,"gridColor":"#ccccdc","gridOpacity":0.08,"domain":false,"ticks":false,"labelColor":"#ccccdc","labelFontSize":7.5,"labelFont":"Inter","labelPadding":6}},
  "y":{"field":"v","type":"quantitative","scale":{"domain":[-12.91,14.99],"nice":false,"zero":false},
   "axis":{"orient":"left","title":null,"values":[-12,-10,-8,-6,-4,-2,0,2,4,6,8,10,12,14],"labelExpr":"datum.value == 0 ? '0 W' : datum.value + ' kW'","grid":true,"gridColor":"#ccccdc","gridOpacity":0.08,"domain":false,"ticks":false,"labelColor":"#ccccdc","labelFontSize":7.5,"labelFont":"Inter","labelPadding":4}},
  "color":{"field":"s","type":"nominal","scale":{"domain":["Netz","Batterie","PV Gesamt","Wallbox","Haus"],"range":["#73BF69","#FADE2A","#8AB8FF","#F2495C","#5794F2"]},
   "legend":{"orient":"none","legendX":-27,"legendY":315,"direction":"horizontal","title":null,"symbolType":"stroke","symbolStrokeWidth":3,"symbolSize":49,"symbolOpacity":1,"labelColor":"#ccccdc","labelFontSize":7,"labelFont":"Inter","labelOffset":5,"columnPadding":5,"labelExpr":"datum.label + '\u00a0\u00a0Last *: ' + (datum.label == 'Netz' ? '-23 W' : datum.label == 'Batterie' ? '3.46 kW' : datum.label == 'PV Gesamt' ? '1.17 kW' : datum.label == 'Wallbox' ? '3.96 kW' : '649 W')"}}
 },
 "layer":[
  {"mark":{"type":"area","opacity":0.1},"encoding":{"y2":{"datum":0}}},
  {"transform":[{"filter":"datum.s == 'Netz'"}],"mark":{"type":"line","strokeWidth":1}},
  {"transform":[{"filter":"datum.s == 'Batterie'"}],"mark":{"type":"line","strokeWidth":1}},
  {"transform":[{"filter":"datum.s == 'PV Gesamt'"}],"mark":{"type":"line","strokeWidth":1}},
  {"transform":[{"filter":"datum.s == 'Wallbox'"}],"mark":{"type":"line","strokeWidth":1.6}},
  {"transform":[{"filter":"datum.s == 'Haus'"}],"mark":{"type":"line","strokeWidth":1}}
 ]
}
],
"resolve":{"scale":{"y":"independent","color":"independent"}}
}
